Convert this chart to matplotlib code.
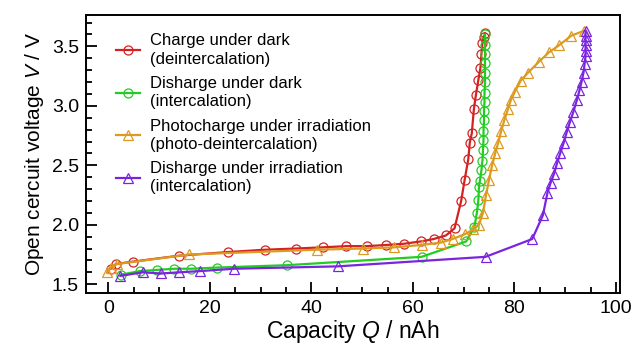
"""
Open circuit voltage vs capacity under dark / irradiation
"""

import matplotlib
matplotlib.use('Agg')
import matplotlib.pyplot as plt
from matplotlib.ticker import MultipleLocator, FormatStrFormatter


#---------------------------------------------------------------------------------------------------
# Data
#---------------------------------------------------------------------------------------------------

# Charge under dark (deintercalation)
q_charge_dark = [0.5, 1.5, 4.9, 14.0, 23.5, 30.9, 37.0, 42.2, 46.9, 50.9, 54.8, 58.2, 61.6, 64.1,
                 66.5, 68.2, 69.5, 70.2, 70.9, 71.2, 71.6, 72.0, 72.4, 72.9, 73.3, 73.5, 73.7, 74.0, 74.2]
v_charge_dark = [1.63, 1.67, 1.69, 1.74, 1.77, 1.79, 1.80, 1.81, 1.82, 1.82, 1.83, 1.84, 1.86, 1.88,
                 1.91, 1.97, 2.20, 2.38, 2.55, 2.69, 2.77, 2.97, 3.09, 3.22, 3.32, 3.44, 3.53, 3.58, 3.61]

# Disharge under dark (intercalation)
q_dis_dark = [74.2, 74.2, 74.2, 74.2, 74.2, 74.2, 74.1, 74.1, 74.0, 74.0, 73.9, 73.9, 73.8, 73.7,
              73.5, 73.2, 73.0, 72.9, 72.6, 72.1, 70.5, 61.7, 35.3, 21.5, 16.4, 13.0, 9.6, 6.2, 2.5]
v_dis_dark = [3.60, 3.51, 3.44, 3.36, 3.28, 3.20, 3.11, 3.03, 2.96, 2.88, 2.79, 2.71, 2.63, 2.54,
              2.46, 2.37, 2.32, 2.21, 2.10, 1.98, 1.86, 1.73, 1.66, 1.64, 1.63, 1.63, 1.62, 1.61, 1.58]

# Photocharge under irradiation (photo-deintercalation)
q_photo = [-0.2, 0.5, 1.8, 16.0, 41.1, 50.2, 56.3, 61.7, 65.5, 67.8, 70.2, 71.9, 73.0, 73.8, 74.4,
           75.0, 75.6, 76.2, 76.8, 77.4, 78.0, 78.7, 79.3, 80.1, 81.2, 82.7, 84.8, 86.8, 88.8, 91.2, 93.6]
v_photo = [1.60, 1.64, 1.67, 1.75, 1.79, 1.80, 1.81, 1.83, 1.85, 1.88, 1.92, 1.96, 2.00, 2.10, 2.25,
           2.38, 2.50, 2.60, 2.69, 2.79, 2.88, 2.97, 3.05, 3.12, 3.21, 3.28, 3.37, 3.45, 3.51, 3.59, 3.63]

# Disharge under irradiation (intercalation)
q_dis_irr = [94.0, 94.0, 94.0, 94.0, 94.0, 94.0, 93.8, 93.6, 93.2, 92.8, 92.3, 91.6, 90.9, 90.3,
             89.7, 89.0, 88.4, 87.8, 87.1, 86.5, 85.6, 83.5, 74.3, 45.2, 24.8, 18.0, 14.0, 10.4, 6.8, 2.4]
v_dis_irr = [3.63, 3.59, 3.55, 3.51, 3.46, 3.42, 3.35, 3.28, 3.20, 3.13, 3.05, 2.95, 2.86, 2.78,
             2.69, 2.60, 2.52, 2.43, 2.35, 2.27, 2.08, 1.88, 1.73, 1.65, 1.63, 1.61, 1.60, 1.59, 1.60, 1.57]

labels = ['Charge under dark\n(deintercalation)',
          'Disharge under dark\n(intercalation)',
          'Photocharge under irradiation\n(photo-deintercalation)',
          'Disharge under irradiation\n(intercalation)']


#---------------------------------------------------------------------------------------------------
# Make plot
#---------------------------------------------------------------------------------------------------

plt.rcParams['font.family'] = ['Liberation Sans', 'DejaVu Sans']
plt.rcParams['mathtext.fontset'] = 'custom'
plt.rcParams['mathtext.it'] = 'Liberation Sans:italic'
plt.rcParams['mathtext.rm'] = 'Liberation Sans'

fig, ax = plt.subplots(figsize=(6.36, 3.54), dpi=100)
plt.subplots_adjust(left=0.135, right=0.975, bottom=0.172, top=0.958)

series = [(q_charge_dark, v_charge_dark, '#d42222', 'o'),
          (q_dis_dark, v_dis_dark, '#22cc22', 'o'),
          (q_photo, v_photo, '#dc9a20', '^'),
          (q_dis_irr, v_dis_irr, '#7a24e0', '^')]

for (q, v, c, m), lab in zip(series, labels):
    ax.plot(q, v, c=c, lw=1.6, marker=m, ms=6.5, mfc='none', mec=c, mew=0.9, label=lab)

ax.set_xlim(-4.4, 100.8)
ax.set_ylim(1.425, 3.765)
ax.xaxis.set_major_locator(MultipleLocator(20))
ax.xaxis.set_minor_locator(MultipleLocator(5))
ax.yaxis.set_major_locator(MultipleLocator(0.5))
ax.yaxis.set_minor_locator(MultipleLocator(0.1))
ax.yaxis.set_major_formatter(FormatStrFormatter('%.1f'))
ax.tick_params(which='both', direction='in', width=1.3, labelsize=14)
ax.tick_params(which='major', length=8, pad=5)
ax.tick_params(which='minor', length=4.5)
for s in ax.spines.values():
    s.set_linewidth(1.4)

ax.set_xlabel('Capacity $Q$ / nAh', size=16.5, labelpad=1)
ax.set_ylabel('Open cercuit voltage $V$ / V', size=15, labelpad=4)

leg = ax.legend(loc='upper left', bbox_to_anchor=(0.035, 0.975), frameon=False, fontsize=12,
                handlelength=1.45, handletextpad=0.6, labelspacing=0.55, numpoints=1,
                borderaxespad=0.3)
for t in leg.get_texts():
    t.set_linespacing(1.28)

plt.savefig('out.png', dpi=100)
